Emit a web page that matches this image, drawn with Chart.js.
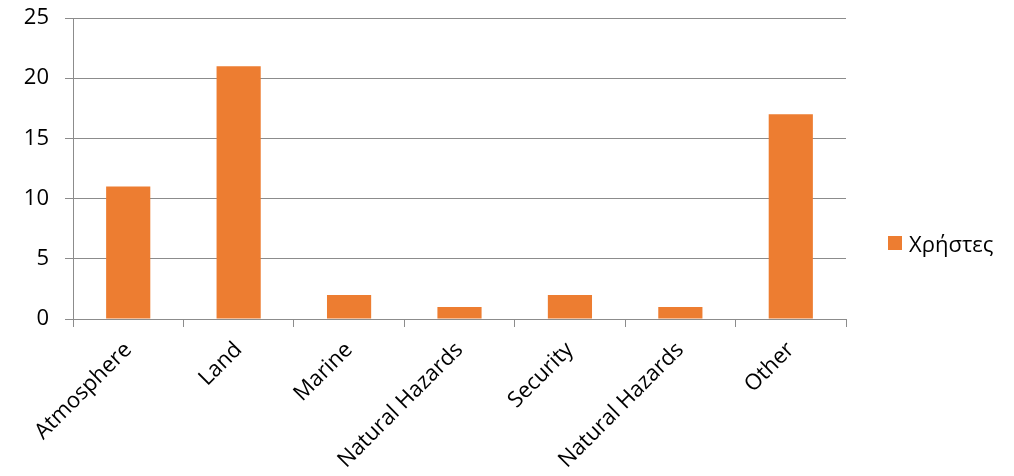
<!DOCTYPE html>
<html>
<head>
<meta charset="utf-8">
<script src="https://cdn.jsdelivr.net/npm/chart.js@4.4.1/dist/chart.umd.min.js"></script>
<style>
  html,body{margin:0;padding:0;background:#fff;}
  #wrap{position:relative;width:1014px;height:476px;}
  #legend{position:absolute;left:888px;top:228px;height:30px;font:22px "Open Sans",sans-serif;color:#000;display:flex;align-items:center;}
  #legend span.sw{display:inline-block;width:14px;height:14px;background:#ED7D31;margin-right:7px;}
</style>
</head>
<body>
<div id="wrap">
  <canvas id="c" width="1014" height="476"></canvas>
  <div id="legend"><span class="sw"></span><span id="legText"></span></div>
</div>
<script>
const categories = ['Atmosphere','Land','Marine','Natural Hazards','Security','Natural Hazards','Other'];
const seriesName = 'Χρήστες';
const values = [11, 21, 2, 1, 2, 1, 17];
const yTicks = [0, 5, 10, 15, 20, 25];

const orange = '#ED7D31', axisGray = '#8c8c8c';
const font = {family:'"Open Sans", sans-serif', size:22};

document.getElementById('legText').textContent = seriesName;

new Chart(document.getElementById('c'), {
  type:'bar',
  data:{labels:categories, datasets:[{label:seriesName, data:values, backgroundColor:orange,
    categoryPercentage:1, barPercentage:0.4}]},
  options:{
    responsive:false, animation:false,
    layout:{padding:{top:18, right:168, left:0, bottom:0}},
    plugins:{legend:{display:false}, tooltip:{enabled:false}},
    scales:{
      x:{
        grid:{offset:true, drawOnChartArea:false, drawTicks:true, tickLength:8, color:axisGray},
        border:{color:axisGray},
        ticks:{color:'#000', font, minRotation:45, maxRotation:45, padding:10},
        afterFit:s=>{ s.height = 157; s.paddingLeft = 0; s.paddingRight = 0; }
      },
      y:{
        min:0, max:25,
        afterBuildTicks:s=>{ s.ticks = yTicks.map(v=>({value:v})); },
        grid:{color:axisGray, tickLength:8},
        border:{color:axisGray},
        ticks:{color:'#000', font, padding:16},
        afterFit:s=>{ s.width = 73; s.paddingTop = 0; s.paddingBottom = 0; }
      }
    }
  }
});
</script>
</body>
</html>
